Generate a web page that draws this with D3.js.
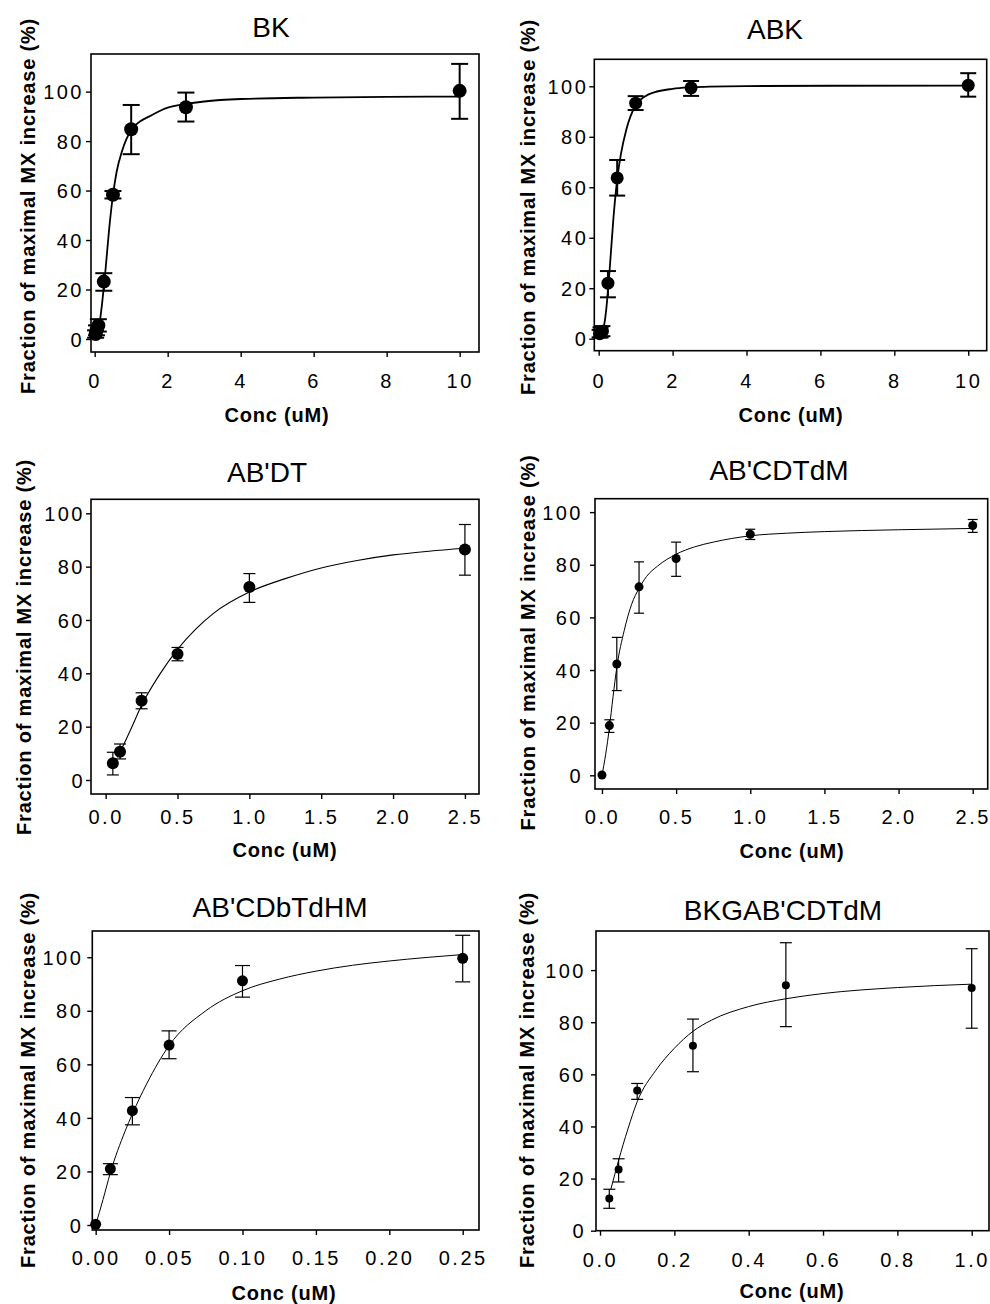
<!DOCTYPE html>
<html><head><meta charset="utf-8">
<script src="https://cdn.jsdelivr.net/npm/d3@7"></script>
<style>
body{margin:0;background:#fff}
svg{display:block}
text{font-family:"Liberation Sans",Arial,sans-serif;fill:#000}
</style>
</head><body>
<svg id="chart" width="990" height="1304"></svg>
<script>
// ---------------- data ----------------
const titles = ["BK", "ABK", "AB'DT", "AB'CDTdM", "AB'CDbTdHM", "BKGAB'CDTdM"];
const xAxisLabel = "Conc (uM)";
const yAxisLabel = "Fraction of maximal MX increase (%)";
const yTickValues = [0, 20, 40, 60, 80, 100];
const xTicks10 = [0, 2, 4, 6, 8, 10];
const xTicks25 = [0, 0.5, 1.0, 1.5, 2.0, 2.5];
const xTicks025 = [0, 0.05, 0.10, 0.15, 0.20, 0.25];
const xTicks1 = [0, 0.2, 0.4, 0.6, 0.8, 1.0];

// BK
const bkConc  = [0.025, 0.05, 0.1, 0.25, 0.5, 1, 2.5, 10];
const bkMean  = [2, 3.5, 5.5, 23.2, 58.3, 84.8, 93.7, 100.3];
const bkUpper = [3.5, 5.5, 8, 26.6, 59.8, 94.6, 99.6, 111.2];
const bkLower = [0.5, 1.5, 3, 19.5, 56.8, 74.7, 87.9, 89];
const bkFitX  = [0, 0.1, 0.2, 0.25, 0.3, 0.4, 0.5, 0.6, 0.75, 1, 1.25, 1.5, 2, 2.5, 3, 4, 6, 8, 10];
const bkFitY  = [0.5, 3.5, 14, 21, 28.5, 45, 58, 67.5, 76, 84.5, 88, 90, 93.5, 95, 96, 97, 97.6, 97.9, 98];

// ABK
const abkConc  = [0.025, 0.05, 0.1, 0.25, 0.5, 1, 2.5, 10];
const abkMean  = [2, 2.5, 3, 22, 63.7, 93.3, 99.4, 100.4];
const abkUpper = [3.5, 4.5, 5, 26.8, 70.8, 96.1, 102.1, 105.2];
const abkLower = [0.5, 0.5, 1, 16.4, 56.7, 90.6, 96.2, 95.9];
const abkFitX  = [0, 0.1, 0.2, 0.25, 0.3, 0.4, 0.5, 0.6, 0.75, 1, 1.25, 1.5, 2, 2.5, 3, 4, 10];
const abkFitY  = [0.3, 2.5, 11, 19, 28, 48, 63, 73, 83, 92.5, 96, 97.6, 99, 99.6, 99.9, 100.1, 100.3];

// AB'DT
const abdtConc  = [0.05, 0.1, 0.25, 0.5, 1, 2.5];
const abdtMean  = [6.25, 10.6, 29.7, 47.2, 72.4, 86.4];
const abdtUpper = [10.4, 13.5, 32.7, 49.7, 77.4, 95.8];
const abdtLower = [1.9, 7.9, 26.7, 44.7, 66.6, 76.8];
const abdtFitX  = [0.08, 0.1, 0.175, 0.25, 0.375, 0.5, 0.625, 0.75, 1, 1.25, 1.5, 1.75, 2, 2.25, 2.5];
const abdtFitY  = [8.5, 10.5, 19, 28, 39.5, 49, 56.5, 62.5, 70.5, 75.5, 79.5, 82.3, 84.4, 85.8, 86.9];

// AB'CDTdM
const abcdtConc  = [0, 0.05, 0.1, 0.25, 0.5, 1, 2.5];
const abcdtMean  = [0.1, 18.9, 42.3, 71.6, 82.4, 91.6, 94.9];
const abcdtUpper = [0.1, 21.1, 52.4, 81.1, 88.6, 93.5, 97.2];
const abcdtLower = [0.1, 16.3, 32.2, 61.6, 75.6, 89.6, 92.3];
const abcdtFitX  = [0, 0.025, 0.05, 0.075, 0.1, 0.15, 0.2, 0.25, 0.3, 0.375, 0.5, 0.625, 0.75, 1, 1.25, 1.5, 2, 2.5];
const abcdtFitY  = [0, 8, 18, 30, 41, 55, 65, 71, 75.5, 79.5, 84, 86.8, 88.6, 91, 92, 92.6, 93.3, 93.8];

// AB'CDbTdHM
const abcdbConc  = [0, 0.01, 0.025, 0.05, 0.1, 0.25];
const abcdbMean  = [0.25, 21, 42.7, 67.2, 91.2, 99.6];
const abcdbUpper = [0.25, 22.9, 47.6, 72.5, 96.9, 108.2];
const abcdbLower = [0.25, 18.8, 37.4, 62.1, 85.1, 90.8];
const abcdbFitX  = [0, 0.005, 0.01, 0.02, 0.025, 0.035, 0.05, 0.075, 0.1, 0.125, 0.15, 0.175, 0.2, 0.225, 0.25];
const abcdbFitY  = [0, 9.5, 19.5, 35, 41.5, 53, 67, 80, 87.5, 91.8, 94.8, 97, 98.6, 99.9, 101];

// BKGAB'CDTdM
const bkgConc  = [0.025, 0.05, 0.1, 0.25, 0.5, 1.0];
const bkgMean  = [12.4, 23.5, 53.8, 71, 94.2, 93.1];
const bkgUpper = [15.9, 27.6, 56.5, 81.2, 110.5, 108.2];
const bkgLower = [8.6, 18.7, 50.4, 61, 78.3, 77.7];
const bkgFitX  = [0.029, 0.05, 0.075, 0.1, 0.15, 0.2, 0.25, 0.3, 0.4, 0.5, 0.6, 0.8, 1.0];
const bkgFitY  = [15.8, 27, 39, 49.5, 61.5, 70, 76.5, 80.8, 86, 89, 91, 93.3, 94.6];

// ---------------- layout ----------------
const fmtInt = d3.format("d"), fmt1 = d3.format(".1f"), fmt2 = d3.format(".2f");
const panels = [
  {title: titles[0], conc: bkConc, mean: bkMean, upper: bkUpper, lower: bkLower, fitX: bkFitX, fitY: bkFitY,
   xTicks: xTicks10, xFmt: fmtInt, xDomain: [-0.101, 10.53], yDomain: [-5.26, 115.2],
   box: {l: 91, r: 479, t: 54, b: 352}, titlePos: [271, 37], xlabPos: [277, 422], ylabPos: [28, 206],
   xTickBase: 36, yTickGap: 7, r: 7, cap: 8.5, errW: 2, fitW: 1.8},
  {title: titles[1], conc: abkConc, mean: abkMean, upper: abkUpper, lower: abkLower, fitX: abkFitX, fitY: abkFitY,
   xTicks: xTicks10, xFmt: fmtInt, xDomain: [-0.119, 10.5], yDomain: [-4.75, 110.7],
   box: {l: 594.3, r: 986.7, t: 59.3, b: 350.7}, titlePos: [775, 38.5], xlabPos: [791, 422], ylabPos: [527.5, 207],
   xTickBase: 37.5, yTickGap: 6, r: 6.5, cap: 8, errW: 2, fitW: 1.8},
  {title: titles[2], conc: abdtConc, mean: abdtMean, upper: abdtUpper, lower: abdtLower, fitX: abdtFitX, fitY: abdtFitY,
   xTicks: xTicks25, xFmt: fmt1, xDomain: [-0.102, 2.598], yDomain: [-5.25, 105.25],
   box: {l: 91, r: 479, t: 499.3, b: 794}, titlePos: [267, 482], xlabPos: [285, 857], ylabPos: [24, 647],
   xTickBase: 29.5, yTickGap: 6, r: 6, cap: 6, errW: 1.2, fitW: 1.1},
  {title: titles[3], conc: abcdtConc, mean: abcdtMean, upper: abcdtUpper, lower: abcdtLower, fitX: abcdtFitX, fitY: abcdtFitY,
   xTicks: xTicks25, xFmt: fmt1, xDomain: [-0.047, 2.601], yDomain: [-5.2, 105.1],
   box: {l: 595, r: 987.7, t: 498.7, b: 789}, titlePos: [779, 479.5], xlabPos: [792, 857.5], ylabPos: [528, 642.5],
   xTickBase: 35, yTickGap: 12, r: 4.5, cap: 5, errW: 1.2, fitW: 1},
  {title: titles[4], conc: abcdbConc, mean: abcdbMean, upper: abcdbUpper, lower: abcdbLower, fitX: abcdbFitX, fitY: abcdbFitY,
   xTicks: xTicks025, xFmt: fmt2, xDomain: [-0.0023, 0.2611], yDomain: [-1.87, 109.8],
   box: {l: 92.3, r: 479, t: 931, b: 1230}, titlePos: [280, 917], xlabPos: [284, 1300], ylabPos: [28, 1080],
   xTickBase: 35, yTickGap: 9, r: 5.5, cap: 7.5, errW: 1.2, fitW: 1},
  {title: titles[5], conc: bkgConc, mean: bkgMean, upper: bkgUpper, lower: bkgLower, fitX: bkgFitX, fitY: bkgFitY,
   xTicks: xTicks1, xFmt: fmt1, xDomain: [-0.0108, 1.0465], yDomain: [0, 115],
   box: {l: 596, r: 989, t: 931, b: 1230.7}, titlePos: [783, 920], xlabPos: [792, 1298], ylabPos: [527, 1080],
   xTickBase: 36, yTickGap: 10, r: 4, cap: 6, errW: 1.2, fitW: 1}
];

// ---------------- draw ----------------
const svg = d3.select("#chart");
svg.append("rect").attr("width", 990).attr("height", 1304).attr("fill", "#fff");

panels.forEach(p => {
  const g = svg.append("g");
  const x = d3.scaleLinear().domain(p.xDomain).range([p.box.l, p.box.r]);
  const y = d3.scaleLinear().domain(p.yDomain).range([p.box.b, p.box.t]);

  // frame
  g.append("rect")
    .attr("x", p.box.l).attr("y", p.box.t)
    .attr("width", p.box.r - p.box.l).attr("height", p.box.b - p.box.t)
    .attr("fill", "none").attr("stroke", "#000").attr("stroke-width", 1.6);

  // x axis
  const xa = g.append("g").attr("transform", `translate(0,${p.box.b})`)
    .call(d3.axisBottom(x).tickValues(p.xTicks).tickFormat(p.xFmt).tickSize(5).tickSizeOuter(0));
  xa.attr("font-size", null).attr("font-family", null);
  xa.select(".domain").remove();
  xa.selectAll(".tick line").attr("stroke", "#000").attr("stroke-width", 1.4);
  xa.selectAll(".tick text").attr("y", p.xTickBase).attr("dy", null)
    .style("font-size", "20px").style("letter-spacing", "2.5px");

  // y axis
  const ya = g.append("g").attr("transform", `translate(${p.box.l},0)`)
    .call(d3.axisLeft(y).tickValues(yTickValues).tickFormat(fmtInt).tickSize(5).tickSizeOuter(0));
  ya.attr("font-size", null).attr("font-family", null);
  ya.select(".domain").remove();
  ya.selectAll(".tick line").attr("stroke", "#000").attr("stroke-width", 1.4);
  ya.selectAll(".tick text").attr("x", -p.yTickGap).attr("dy", "0.36em")
    .style("font-size", "20px").style("letter-spacing", "2.5px");

  // fitted curve
  const fit = p.fitX.map((v, i) => [v, p.fitY[i]]);
  g.append("path").datum(fit)
    .attr("fill", "none").attr("stroke", "#000").attr("stroke-width", p.fitW)
    .attr("d", d3.line().x(d => x(d[0])).y(d => y(d[1])).curve(d3.curveMonotoneX));

  // error bars
  const pts = p.conc.map((c, i) => ({c, m: p.mean[i], u: p.upper[i], l: p.lower[i]}));
  const eb = g.append("g").attr("stroke", "#000").attr("stroke-width", p.errW);
  pts.filter(d => d.u - d.l > 0.01).forEach(d => {
    eb.append("line").attr("x1", x(d.c)).attr("x2", x(d.c)).attr("y1", y(d.u)).attr("y2", y(d.l));
    eb.append("line").attr("x1", x(d.c) - p.cap).attr("x2", x(d.c) + p.cap).attr("y1", y(d.u)).attr("y2", y(d.u));
    eb.append("line").attr("x1", x(d.c) - p.cap).attr("x2", x(d.c) + p.cap).attr("y1", y(d.l)).attr("y2", y(d.l));
  });

  // points
  g.selectAll("circle.pt").data(pts).join("circle").attr("class", "pt")
    .attr("cx", d => x(d.c)).attr("cy", d => y(d.m)).attr("r", p.r).attr("fill", "#000");

  // title
  g.append("text").attr("x", p.titlePos[0]).attr("y", p.titlePos[1])
    .attr("text-anchor", "middle").style("font-size", "28px").text(p.title);

  // x label
  g.append("text").attr("x", p.xlabPos[0]).attr("y", p.xlabPos[1])
    .attr("text-anchor", "middle").style("font-size", "20px").style("font-weight", "bold")
    .style("letter-spacing", "0.8px").text(xAxisLabel);

  // y label
  g.append("text").attr("transform", `translate(${p.ylabPos[0]},${p.ylabPos[1]}) rotate(-90)`)
    .attr("text-anchor", "middle").attr("dy", "0.35em")
    .style("font-size", "20px").style("font-weight", "bold")
    .style("letter-spacing", "0.8px").text(yAxisLabel);
});
</script>
</body></html>
